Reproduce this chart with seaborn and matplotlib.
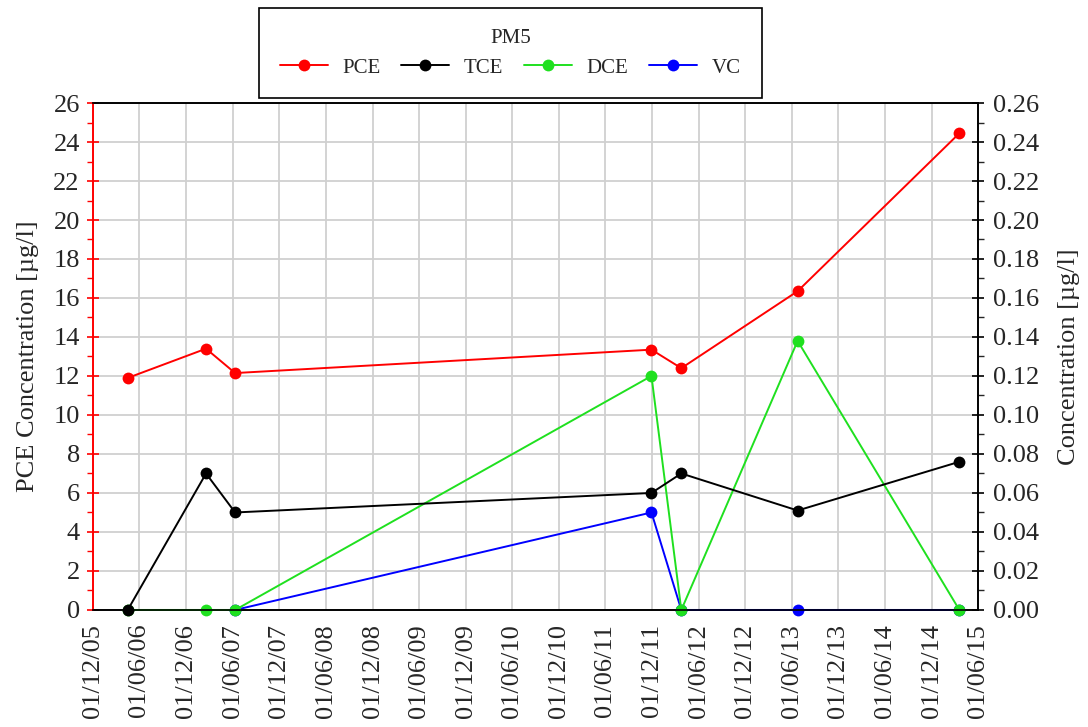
import pandas as pd
import matplotlib.pyplot as plt
import matplotlib.dates as mdates
from matplotlib.ticker import MultipleLocator, FormatStrFormatter
import seaborn as sns

# sampling dates
dates = pd.to_datetime(['2006-04-16', '2007-02-17', '2007-06-11', '2011-11-29',
                        '2012-03-25', '2013-06-24', '2015-03-20'])

# PCE on left axis [ug/l]
pce = [11.9, 13.4, 12.15, 13.35, 12.4, 16.35, 24.45]
# other compounds on right axis [ug/l]
tce = [0.0, 0.07, 0.05, 0.06, 0.07, 0.051, 0.076]
dce = [0.0, 0.0, 0.0, 0.12, 0.0, 0.138, 0.0]
vc_dates = dates[2:]
vc = [0.0, 0.05, 0.0, 0.0, 0.0]

sns.set_style("white")
plt.rcParams['font.family'] = ['Liberation Serif', 'DejaVu Serif']

red, black, green, blue = '#ff0000', '#000000', '#1fe01f', '#0000ff'

fig = plt.figure(figsize=(10.88, 7.27), dpi=100)
ax = fig.add_axes([0.0855, 0.161, 0.8134, 0.6973])
ax2 = ax.twinx()

lw, ms = 1.4, 8.5
sns.lineplot(x=dates, y=pce, ax=ax, color=red, marker='o', markersize=ms,
             markeredgewidth=0, linewidth=lw, label='PCE', legend=False,
             clip_on=False)
sns.lineplot(x=vc_dates, y=vc, ax=ax2, color=blue, marker='o', markersize=ms,
             markeredgewidth=0, linewidth=lw, label='VC', legend=False,
             clip_on=False)
sns.lineplot(x=dates, y=dce, ax=ax2, color=green, marker='o', markersize=ms,
             markeredgewidth=0, linewidth=lw, label='DCE', legend=False,
             clip_on=False)
sns.lineplot(x=dates, y=tce, ax=ax2, color=black, marker='o', markersize=ms,
             markeredgewidth=0, linewidth=lw, label='TCE', legend=False,
             clip_on=False)

# axes limits
ax.set_xlim(pd.Timestamp('2005-12-01'), pd.Timestamp('2015-06-01'))
ax.set_ylim(0, 26)
ax2.set_ylim(0, 0.26)

# x ticks every 6 months
ax.xaxis.set_major_locator(mdates.MonthLocator(bymonth=[6, 12], bymonthday=1))
ax.xaxis.set_minor_locator(mdates.MonthLocator(bymonth=[3, 9], bymonthday=1))
ax.xaxis.set_major_formatter(mdates.DateFormatter('%d/%m/%y'))
ax.yaxis.set_major_locator(MultipleLocator(2))
ax.yaxis.set_minor_locator(MultipleLocator(1))
ax2.yaxis.set_major_locator(MultipleLocator(0.02))
ax2.yaxis.set_minor_locator(MultipleLocator(0.01))
ax2.yaxis.set_major_formatter(FormatStrFormatter('%.2f'))

ax.grid(True, which='major', color='#d0d0d0', linewidth=1.3)
ax.set_axisbelow(True)

fs = 19
ax.tick_params(axis='x', which='major', direction='out', length=6, width=1.2,
               labelsize=fs, labelrotation=90, color='black', pad=4)
ax.tick_params(axis='x', which='minor', direction='out', length=3, width=1.0)
ax.tick_params(axis='y', which='major', direction='inout', length=9, width=1.2,
               labelsize=fs, color=red, left=True, pad=5)
ax.tick_params(axis='y', which='minor', direction='out', length=4, width=1.0,
               color=red, left=True)
ax2.tick_params(axis='y', which='major', direction='inout', length=9, width=1.2,
                labelsize=fs, color='black', pad=6)
ax2.tick_params(axis='y', which='minor', direction='out', length=4, width=1.0)

for a in (ax, ax2):
    for s in a.spines.values():
        s.set_color('black')
        s.set_linewidth(1.2)
ax2.spines['left'].set_color(red)
ax.spines['left'].set_color(red)

ax.set_xlabel('')
ax.set_ylabel('PCE Concentration [µg/l]', fontsize=fs, labelpad=10)
ax2.set_ylabel('Concentration [µg/l]', fontsize=fs, labelpad=14)

# legend on top, order PCE, TCE, DCE, VC
handles = {l.get_label(): l for l in ax.get_lines() + ax2.get_lines()}
order = ['PCE', 'TCE', 'DCE', 'VC']
leg = fig.legend([handles[k] for k in order], order, title='PM5', ncol=4,
                 loc='center', bbox_to_anchor=(0.469, 0.927), frameon=True,
                 fancybox=False, edgecolor='black', framealpha=1,
                 fontsize=15, title_fontsize=15, handlelength=2.3,
                 columnspacing=1.0, handletextpad=0.7, borderpad=1.0)
leg.get_frame().set_linewidth(1.2)

fig.savefig('out.png', dpi=100)
